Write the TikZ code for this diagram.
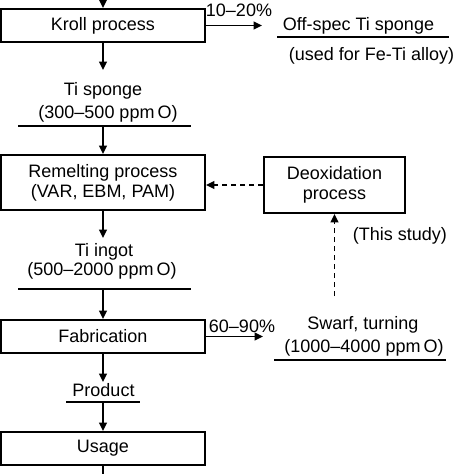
\documentclass[tikz,border=0pt]{standalone}
\usepackage{fontspec}
\setmainfont{Liberation Sans}
\usetikzlibrary{arrows.meta, positioning}
\tikzset{
    procbox/.style={draw, line width=1.4pt, minimum width=5.1cm,
        minimum height=0.825cm, inner sep=0pt, align=center},
    txt/.style={inner sep=0pt, anchor=base},
    flow/.style={line width=1.3pt, -{Triangle[length=6pt, width=5.5pt]}},
    dashflow/.style={flow, dash pattern=on 3.6pt off 2.8pt},
    uline/.style={line width=1.4pt},
}

\begin{document}
\begin{tikzpicture}[x=0.025cm, y=-0.025cm, font=\fontsize{12.8}{15}\selectfont]
        \useasboundingbox (0, 0) rectangle (474, 474);

        % main chain of processes
        \node[procbox] (kroll) at (103, 25.5) {Kroll process};
        \node[procbox, minimum height=1.375cm] (remelt) at (103, 182.5)
            {Remelting process\\[-1pt](VAR, EBM, PAM)};
        \node[procbox] (fab) at (103, 336.5) {Fabrication};
        \node[procbox] (usage) at (103, 448.5) {Usage};
        \node[procbox, minimum width=3.525cm, minimum height=1.4cm] (deox)
            at (334.5, 185) {Deoxidation\\[-1pt]process};

        % intermediate products
        \node[txt] (sponge) at (103, 95) {Ti sponge};
        \node[txt] (spongeO) at (108, 118) {(300–500 ppm\,O)};
        \node[txt] (ingot) at (104, 256) {Ti ingot};
        \node[txt] (ingotO) at (102, 275) {(500–2000 ppm\,O)};
        \node[txt] (product) at (103.5, 396) {Product};

        % side streams
        \node[txt] (krollpct) at (239, 16) {10–20\%};
        \node[txt] (offspec) at (358.5, 30.5) {Off-spec Ti sponge};
        \node[txt] (feti) at (371.5, 60) {(used for Fe-Ti alloy)};
        \node[txt] (fabpct) at (242, 332) {60–90\%};
        \node[txt] (swarf) at (363, 329) {Swarf, turning};
        \node[txt] (swarfO) at (364, 352) {(1000–4000 ppm\,O)};
        \node[txt] (study) at (400, 240) {(This study)};

        % underlines
        \coordinate (spongeul) at (103, 125.7);
        \coordinate (ingotul) at (103, 289.3);
        \coordinate (productul) at (103, 402.3);
        \draw[uline] (18, 125.7) -- (191, 125.7);
        \draw[uline] (18, 289.3) -- (191, 289.3);
        \draw[uline] (66, 402.3) -- (140, 402.3);
        \draw[uline] (277, 37) -- (449, 37);
        \draw[uline] (274, 360) -- (446, 360);

        % free ends
        \coordinate (topin) at (103, -2);
        \coordinate (bottomout) at (103, 476);
        \coordinate (spongein) at (103, 70);
        \coordinate (ingotin) at (103, 238);
        \coordinate (productin) at (103, 382);
        \coordinate (offin) at (262, 25.5);
        \coordinate (swarfin) at (263, 336.5);
        \coordinate (recycle) at (334.5, 296);

        % flows
        \draw[flow] (topin) -- (kroll);
        \draw[flow] (kroll) -- (spongein);
        \draw[flow] (spongeul) -- (remelt);
        \draw[flow] (remelt) -- (ingotin);
        \draw[flow] (ingotul) -- (fab);
        \draw[flow] (fab) -- (productin);
        \draw[flow] (productul) -- (usage);
        \draw[line width=1.3pt] (usage) -- (bottomout);
        \draw[flow] (kroll.east) -- (offin);
        \draw[flow] (fab.east) -- (swarfin);
        \draw[dashflow] (deox.west) -- (deox.west -| remelt.east);
        \draw[dashflow] (recycle) -- (deox);
    \end{tikzpicture}
\end{document}
